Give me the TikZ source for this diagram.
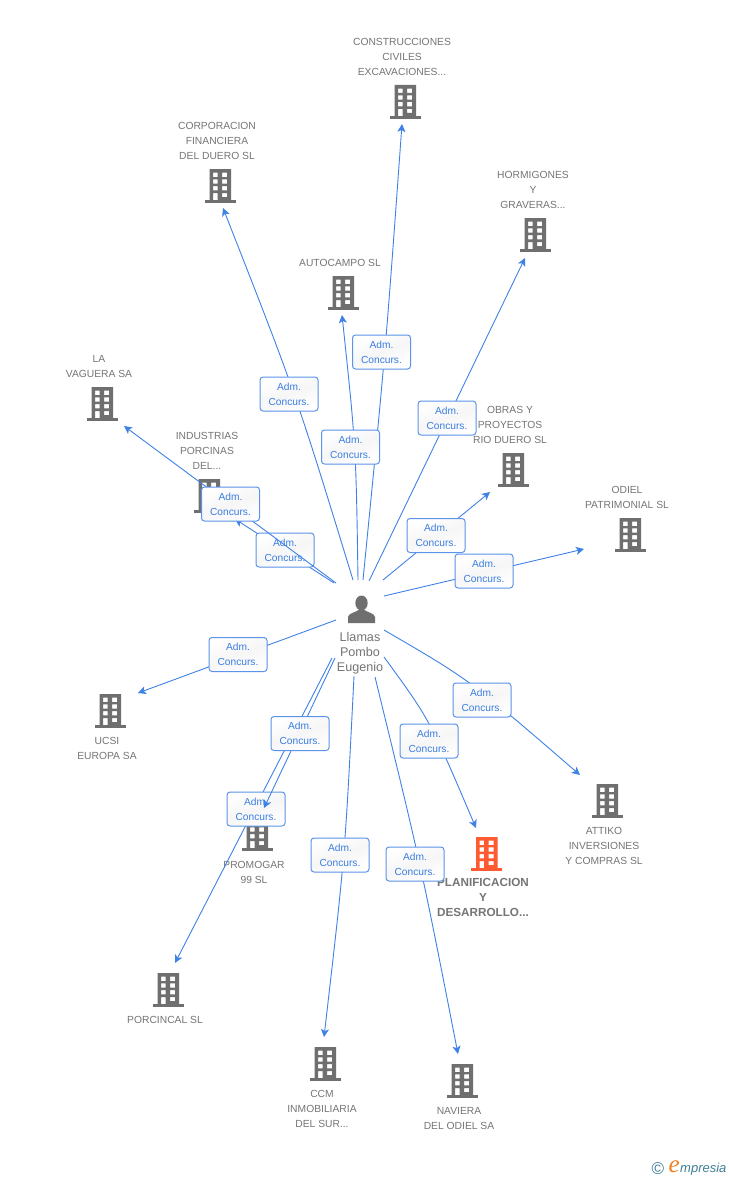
\documentclass[tikz,border=0pt]{standalone}
\usepackage{fontspec}
\setmainfont{Liberation Sans}
\newfontfamily\logofont{Liberation Serif}
\usetikzlibrary{arrows.meta}
\definecolor{lnk}{HTML}{3F82E6}
\definecolor{bord}{HTML}{5B94E8}
\definecolor{txt}{HTML}{3A7DE0}
\definecolor{gry}{HTML}{757575}
\definecolor{ico}{HTML}{6F6F6F}
\definecolor{hot}{HTML}{FF5A30}
\definecolor{teal2}{HTML}{3F7F96}
\definecolor{orng}{HTML}{F08020}
\tikzset{
  link/.style={draw=lnk,line width=.9pt,-{Stealth[length=8pt,width=8pt,inset=2pt]}},
  lab/.style={draw=bord,line width=1pt,rounded corners=3pt,minimum width=58pt,minimum height=34pt,inner sep=0pt,
     top color=white,bottom color=white,middle color=gray!7,shading angle=20,text=txt,align=center,
     font=\fontsize{10.2}{15}\selectfont},
  captxt/.style={text=gry,align=center,inner sep=0pt,yshift=-.8pt,font=\fontsize{10.3}{15}\selectfont},
  captxtb/.style={text=gry,align=center,inner sep=0pt,yshift=-.8pt,font=\bfseries\fontsize{11.7}{15}\selectfont},
  bbox/.style={minimum width=31pt,minimum height=34pt,inner sep=0pt},
}
% \bld{name}{x}{y}{colour}
\newcommand{\bld}[4]{%
  \node[bbox] (#1) at (#2,#3) {};
  \begin{scope}[shift={(#1.center)}]
    \fill[#4,even odd rule] (-10.5,-17) rectangle (11,15)
      (-7,-13.3) rectangle (-2.3,-9) (2,-13.3) rectangle (7,-9)
      (-7,-6.7) rectangle (-2.3,-2.3) (2,-6.7) rectangle (7,-2.3)
      (-7,0) rectangle (-2.3,4.3) (2,0) rectangle (7,4.3)
      (-7,7) rectangle (-2.3,15) (2,7) rectangle (7,11);
    \fill[#4] (-15.5,14) rectangle (15.5,17);
  \end{scope}}
% \lnkc{id}{start}{end}{label}
\newcommand{\lnkc}[4]{%
  \coordinate (s#1) at (#2);
  \coordinate (e#1) at (#3);
  \draw[link] (s#1) -- (e#1);
  \node[lab] (l#1) at (#4) {Adm.\\Concurs.};}
% \lnkq{id}{start}{ctrl}{end}{label}
\newcommand{\lnkq}[5]{%
  \coordinate (s#1) at (#2);
  \coordinate (c#1) at (#3);
  \coordinate (e#1) at (#4);
  \draw[link] (s#1) .. controls (c#1) .. (e#1);
  \node[lab] (l#1) at (#5) {Adm.\\Concurs.};}
\begin{document}
\begin{tikzpicture}[x=1pt,y=-1pt]
\useasboundingbox (0,0) rectangle (728,1180);
\fill[white] (0,0) rectangle (728,1180);
% buildings and captions
\bld{bA}{405}{102}{ico}
\bld{bB}{220}{186}{ico}
\bld{bC}{535}{235}{ico}
\bld{bD}{343}{293}{ico}
\bld{bE}{102}{404}{ico}
\bld{bF}{209}{496}{ico}
\bld{bG}{513}{470}{ico}
\bld{bH}{630}{535}{ico}
\bld{bI}{110}{711}{ico}
\bld{bJ}{257}{834}{ico}
\bld{bK}{486.5}{854}{hot}
\bld{bL}{607}{801}{ico}
\bld{bM}{168}{990}{ico}
\bld{bN}{325}{1064}{ico}
\bld{bO}{462}{1081}{ico}
\node[captxt] (tA) at (402,56) {CONSTRUCCIONES\\CIVILES\\EXCAVACIONES...};
\node[captxt] (tB) at (217,140) {CORPORACION\\FINANCIERA\\DEL DUERO SL};
\node[captxt] (tC) at (533,189) {HORMIGONES\\Y\\GRAVERAS...};
\node[captxt] (tD) at (340,262) {AUTOCAMPO SL};
\node[captxt] (tE) at (99,365.5) {LA\\VAGUERA SA};
\node[captxt] (tF) at (207,450) {INDUSTRIAS\\PORCINAS\\DEL...};
\node[captxt] (tG) at (510,424) {OBRAS Y\\PROYECTOS\\RIO DUERO SL};
\node[captxt] (tH) at (627,496.5) {ODIEL\\PATRIMONIAL SL};
\node[captxt] (tI) at (107,747.5) {UCSI\\EUROPA SA};
\node[captxt] (tJ) at (254,871.5) {PROMOGAR\\99 SL};
\node[captxtb] (tK) at (483,897) {PLANIFICACION\\Y\\DESARROLLO...};
\node[captxt] (tL) at (604,845) {ATTIKO\\INVERSIONES\\Y COMPRAS SL};
\node[captxt] (tM) at (165,1019) {PORCINCAL SL};
\node[captxt] (tN) at (322,1108) {CCM\\INMOBILIARIA\\DEL SUR...};
\node[captxt] (tO) at (459,1117.5) {NAVIERA\\DEL ODIEL SA};
% hub
\node[inner sep=0pt,minimum width=28pt,minimum height=28pt] (hub) at (361.5,609) {};
\begin{scope}[shift={(hub.center)}]
  \fill[ico] (0,-6) ellipse (6.2 and 7.5);
  \fill[ico] (-13.5,14) -- (-13.5,8) .. controls (-13,4) and (-6,3.5) .. (-3,1) -- (3,1) .. controls (6,3.5) and (13,4) .. (13.5,8) -- (13.5,14) -- cycle;
\end{scope}
\node[text=gry,align=center,inner sep=0pt,yshift=-.8pt,font=\fontsize{12.6}{15}\selectfont] (hubt) at (360,652) {Llamas\\Pombo\\Eugenio};
% edges
\lnkq{A}{363,580}{385.5,352}{402,124}{381.5,352}
\lnkq{B}{353,580}{296,394}{223,208}{289,394}
\lnkq{D}{358,580}{356,447}{342,315}{350.5,447}
\lnkc{C}{369,581}{525,258}{447,418}
\lnkc{G}{383,580}{490,492}{436,535.5}
\lnkc{H}{384,596}{584,549}{484,571}
\lnkc{F}{334,583}{235,519}{285,550}
\lnkc{E}{336,583}{124,426}{230.5,504}
\lnkc{I}{336,620}{138,693}{238,654.5}
\lnkc{M}{332,658}{175,963}{256,809}
\lnkc{J}{335,658}{264,808}{300,733.5}
\lnkq{N}{354,676}{345,856}{324,1037}{340,855}
\lnkq{O}{375,677}{421,865}{458,1054}{415,864}
\lnkq{K}{384,657}{430,720}{476,828}{429,741}
\lnkq{L}{384,630}{470,680}{580,775}{482,700}
% logo
\node[text=teal2,inner sep=0pt,font=\fontsize{17}{17}\selectfont] (lc) at (658,1168.5) {©};
\node[text=teal2,inner sep=0pt,anchor=base west,font=\itshape\fontsize{13}{15}\selectfont] (lm) at (680,1172.5) {mpresia};
\node[text=orng,inner sep=0pt,anchor=base east,font=\logofont\itshape\fontsize{25}{25}\selectfont] (le) at (lm.base west) {e};
\end{tikzpicture}
\end{document}
